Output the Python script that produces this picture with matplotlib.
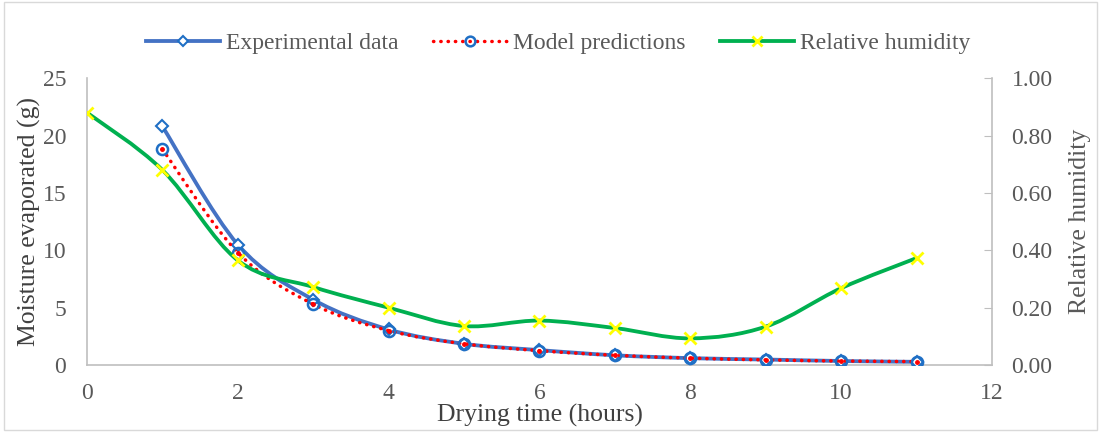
import matplotlib
matplotlib.use("Agg")
import matplotlib.pyplot as plt
import numpy as np
from matplotlib.path import Path
from matplotlib.patches import PathPatch, Rectangle
from matplotlib.lines import Line2D

plt.rcParams['font.family'] = ['Liberation Serif', 'DejaVu Serif']

# data
hours = [1, 2, 3, 4, 5, 6, 7, 8, 9, 10, 11]
experimental = [20.8, 10.5, 5.7, 3.1, 1.85, 1.3, 0.85, 0.6, 0.48, 0.35, 0.28]
predicted = [18.8, 9.8, 5.3, 3.0, 1.85, 1.25, 0.85, 0.6, 0.45, 0.35, 0.3]
rh_hours = [0, 1, 2, 3, 4, 5, 6, 7, 8, 9, 10, 11]
humidity = [0.88, 0.68, 0.365, 0.272, 0.2, 0.136, 0.155, 0.129, 0.093, 0.134, 0.268, 0.373]

grey = '#595959'
axis_grey = '#BFBFBF'


def smooth_path(xs, ys):
    # Excel-style smoothed line: cubic bezier through the points
    pts = np.column_stack([xs, ys]).astype(float)
    verts = [pts[0]]
    codes = [Path.MOVETO]
    n = len(pts)
    for i in range(n - 1):
        p0 = pts[i - 1] if i > 0 else pts[i]
        p1 = pts[i]
        p2 = pts[i + 1]
        p3 = pts[i + 2] if i + 2 < n else pts[i + 1]
        c1 = p1 + (p2 - p0) / 6.0
        c2 = p2 - (p3 - p1) / 6.0
        verts += [c1, c2, p2]
        codes += [Path.CURVE4] * 3
    return Path(verts, codes)


fig = plt.figure(figsize=(11.01, 4.32), dpi=100)
ax = fig.add_axes([0.079, 0.155, 0.822, 0.664])
ax2 = ax.twinx()

# experimental data
ax.add_patch(PathPatch(smooth_path(hours, experimental), fill=False,
                       edgecolor='#4472C4', lw=2.75, zorder=3))
ax.plot(hours, experimental, ls='none', marker='D', ms=6, mfc='white',
        mec='#1F6FC5', mew=1.5, zorder=4)

# model predictions
ax.add_patch(PathPatch(smooth_path(hours, predicted), fill=False,
                       edgecolor='red', lw=2.5, ls=(0, (0.1, 2.0)),
                       capstyle='round', zorder=5))
ax.plot(hours, predicted, ls='none', marker='o', ms=8, mfc='none',
        mec='#1F6FC5', mew=1.8, zorder=6)
ax.plot(hours, predicted, ls='none', marker='o', ms=2.5, mfc='red',
        mec='red', zorder=6)

# relative humidity
ax2.add_patch(PathPatch(smooth_path(rh_hours, humidity), fill=False,
                        edgecolor='#00B050', lw=2.75, zorder=3))
ax2.plot(rh_hours, humidity, ls='none', marker='x', ms=8, mec='#FFFF00',
         mew=2, zorder=4)

ax.set_xlim(0, 12)
ax.set_ylim(0, 25)
ax2.set_ylim(0, 1)
ax.set_xticks(range(0, 13, 2))
ax.set_yticks(range(0, 26, 5))
ax2.set_yticks(np.arange(0, 1.01, 0.2))
ax2.set_yticklabels(['%.2f' % v for v in np.arange(0, 1.01, 0.2)])

for a in (ax, ax2):
    for s in a.spines.values():
        s.set_visible(False)
ax.spines['left'].set_visible(True)
ax.spines['bottom'].set_visible(True)
ax2.spines['right'].set_visible(True)
for s in (ax.spines['left'], ax.spines['bottom'], ax2.spines['right']):
    s.set_color(axis_grey)
    s.set_linewidth(1.2)

ax.tick_params(axis='y', length=0, labelsize=17, labelcolor=grey, pad=15)
ax.tick_params(axis='x', length=0, labelsize=17, labelcolor=grey, pad=13)
ax2.tick_params(axis='y', direction='in', length=6, color=axis_grey,
                labelsize=17, labelcolor=grey, pad=14)

ax.set_xlabel('Drying time (hours)', fontsize=18.5, color='#404040')
ax.xaxis.set_label_coords(0.5, -0.135)
ax.set_ylabel('Moisture evaporated (g)', fontsize=18.5, color='#404040', labelpad=1)
ax2.set_ylabel('Relative humidity', fontsize=18.5, color=grey, labelpad=12)

handles = [
    Line2D([], [], color='#4472C4', lw=2.75, marker='D', ms=5, mfc='white',
           mec='#1F6FC5', mew=1.5),
    Line2D([], [], color='red', lw=2.5, ls=(0, (0.1, 2.0)), dash_capstyle='round',
           marker='o', ms=7, mfc='none', mec='#1F6FC5', mew=1.8),
    Line2D([], [], color='#00B050', lw=2.75, marker='x', ms=7, mec='#FFFF00', mew=2),
]
fig.legend(handles, ['Experimental data', 'Model predictions', 'Relative humidity'],
           loc='center', bbox_to_anchor=(0.507, 0.9), ncol=3, frameon=False,
           fontsize=17, labelcolor=grey, handlelength=3.1, columnspacing=1.5,
           handletextpad=0.25)

fig.patches.append(Rectangle((0.004, 0.004), 0.992, 0.992, transform=fig.transFigure,
                             fill=False, edgecolor='#D9D9D9', lw=1))

fig.savefig('out.png', dpi=100)
